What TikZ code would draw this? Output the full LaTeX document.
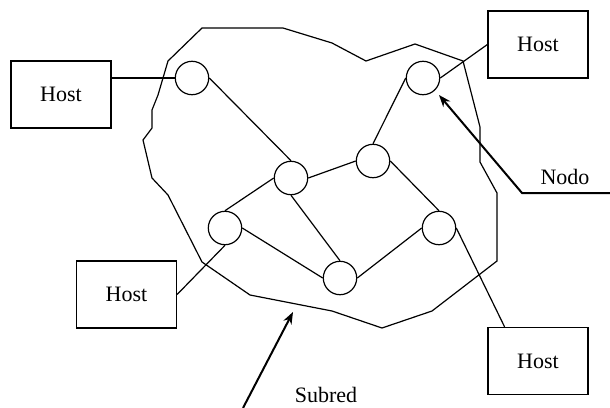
\documentclass[tikz,border=0pt]{standalone}
\usepackage{fontspec}
\setmainfont{Liberation Serif}
\usetikzlibrary{calc, arrows.meta}

\begin{document}
\begin{tikzpicture}[x=0.5pt, y=-0.5pt,
        line width=0.6pt,
        nodo/.style={circle, draw, minimum size=16.7pt, inner sep=0pt},
        host/.style={rectangle, draw, minimum width=50pt, minimum height=33.5pt,
            inner sep=0pt, font=\fontsize{11}{13}\selectfont},
        pointer/.style={line width=1pt, -{Stealth[length=6pt, width=4.5pt]}},
        caption/.style={font=\fontsize{11}{13}\selectfont}
    ]
    \useasboundingbox (0,0) rectangle (610,407);

    % Draw the outline of the subnet
    \draw (202,28) -- (283,28) -- (332,43) -- (366,61) -- (415,44) -- (463,61)
        -- (480,127) -- (480,162) -- (497,193) -- (497,261) -- (432,311)
        -- (382,328) -- (332,311) -- (250,295) -- (202,262) -- (168,195)
        -- (152,178) -- (143,140) -- (152,128) -- (152,110) -- (158,95)
        -- (168,61) -- cycle;

    % Place the nodes of the subnet
    \node[nodo] (n1) at (192,78) {};
    \node[nodo] (n2) at (423,78) {};
    \node[nodo] (n3) at (373,161) {};
    \node[nodo] (n4) at (291,178) {};
    \node[nodo] (n5) at (225,228) {};
    \node[nodo] (n6) at (340,278) {};
    \node[nodo] (n7) at (439,228) {};

    % Place the hosts
    \node[host] (h1) at (61,94.5) {Host};
    \node[host] (h2) at (538,44.5) {Host};
    \node[host] (h3) at (126.5,294.5) {Host};
    \node[host] (h4) at (538,361) {Host};

    % Draw the links between the nodes
    \draw (n1.east) -- (n4.north);
    \draw (n4.east) -- (n3.west);
    \draw (n3.north) -- (n2.west);
    \draw (n4.west) -- (n5.north);
    \draw (n4.south) -- (n6.north);
    \draw (n3.east) -- (n7.north);
    \draw (n5.east) -- (n6.west);
    \draw (n6.east) -- (n7.west);

    % Draw the links to the hosts
    \draw (n1.west) -- (h1.east |- n1);
    \draw (n2.east) -- (h2.west);
    \draw (n5.south) -- (h3.east);
    \draw (n7.east) -- ($(h4.north west)!0.17!(h4.north east)$);

    % Labels with their pointers
    \coordinate (nodoEnd) at (610,193);
    \coordinate (nodoBend) at (522,193);
    \coordinate (nodoTip) at (439,95);
    \node[caption] (nodoText) at (565,177) {Nodo};
    \draw[pointer] (nodoEnd) -- (nodoBend) -- (nodoTip);

    \coordinate (subredTail) at (243,408);
    \coordinate (subredTip) at (293,312);
    \node[caption] (subredText) at (326,395) {Subred};
    \draw[pointer] (subredTail) -- (subredTip);

\end{tikzpicture}
\end{document}
